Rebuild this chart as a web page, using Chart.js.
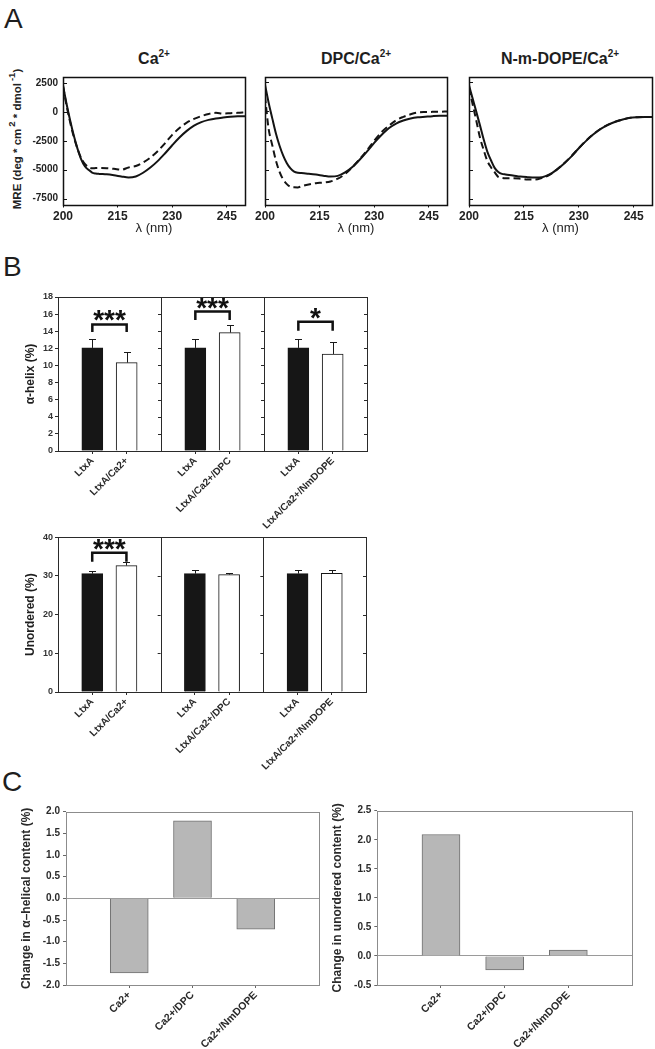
<!DOCTYPE html>
<html><head><meta charset="utf-8"><title>LtxA secondary structure</title>
<script src="https://cdn.jsdelivr.net/npm/chart.js@4.4.1/dist/chart.umd.min.js"></script>
<style>
html,body{margin:0;padding:0;background:#fff;}
#fig{position:relative;width:655px;height:1049px;overflow:hidden;font-family:"Liberation Sans",Arial,sans-serif;color:#222;}
#fig canvas{position:absolute;}
.panel{position:absolute;font-size:28px;line-height:28px;color:#1e1e1e;}
.ttl{position:absolute;top:51px;font-weight:bold;font-size:16px;line-height:16px;white-space:nowrap;transform:translateX(-50%);color:#1e1e1e;}
.ttl sup{font-size:10px;vertical-align:7px;line-height:0;}
.ytl{position:absolute;font-weight:bold;font-size:11.5px;line-height:12px;white-space:nowrap;transform:translate(-50%,-50%) rotate(-90deg);color:#222;}
.ytl sup{font-size:9.5px;vertical-align:6px;line-height:0;margin-left:2px;}
</style></head><body><div id="fig">
<div class="panel" style="left:4px;top:5px">A</div>
<div class="panel" style="left:3px;top:253px">B</div>
<div class="panel" style="left:2px;top:768px">C</div>
<div class="ttl" style="left:154px">Ca<sup>2+</sup></div>
<div class="ttl" style="left:356px">DPC/Ca<sup>2+</sup></div>
<div class="ttl" style="left:560px">N-m-DOPE/Ca<sup>2+</sup></div>
<div class="ytl" style="left:17px;top:139px">MRE (deg * cm<sup>2</sup> * dmol<sup>-1</sup>)</div>
</div>
<script>
// ---------- Panel A: CD spectra ----------
const wavelengths = [200,201,202,203,204,205,206,207,208,209,210,212,214,216,218,220,222,224,226,228,230,232,234,236,238,240,242,244,246,248,250];
const lambdaTicks = [200,215,230,245];
const mreTicks = [-7500,-5000,-2500,0,2500];
const caSolid   = [2300,650,-800,-2100,-3200,-4100,-4700,-5000,-5250,-5330,-5360,-5400,-5480,-5580,-5670,-5580,-5260,-4810,-4260,-3600,-2890,-2220,-1650,-1190,-890,-700,-575,-495,-430,-390,-380];
const caDashed  = [2200,500,-950,-2200,-3200,-4000,-4500,-4780,-4880,-4860,-4850,-4870,-4920,-5000,-4800,-4680,-4370,-3950,-3400,-2720,-1990,-1400,-940,-620,-380,-190,-90,-150,-120,-90,-40];
const dpcSolid  = [2300,750,-600,-1900,-2950,-3800,-4450,-4900,-5180,-5280,-5300,-5360,-5430,-5520,-5600,-5540,-5240,-4770,-4150,-3450,-2700,-2030,-1450,-1040,-780,-610,-510,-460,-410,-380,-380];
const dpcDashed = [1300,-1500,-2910,-4230,-5200,-5850,-6250,-6480,-6520,-6530,-6430,-6280,-6165,-6120,-6020,-5780,-5380,-4800,-4110,-3350,-2520,-1790,-1240,-760,-470,-250,-90,-50,-40,-30,-10];
const dopeSolid = [2240,1100,-40,-1200,-2400,-3450,-4200,-4850,-5200,-5370,-5420,-5500,-5600,-5650,-5680,-5650,-5420,-5000,-4470,-3860,-3170,-2530,-1970,-1500,-1150,-890,-700,-555,-500,-480,-480];
const dopeDashed= [2000,600,-800,-2250,-3300,-4250,-4800,-5220,-5630,-5720,-5750,-5740,-5780,-5850,-5860,-5700,-5450,-5000,-4450,-3840,-3150,-2510,-1950,-1490,-1140,-880,-690,-550,-495,-475,-470];

// ---------- Panel B: secondary structure ----------
const barLabels = ['LtxA','LtxA/Ca2+','LtxA','LtxA/Ca2+/DPC','LtxA','LtxA/Ca2+/NmDOPE'];
const barSlots = [1,2,4,5,7,8];
const groupDividers = [3,6];
const helixValues = [12.05,10.33,12.05,13.84,12.05,11.34];
const helixErrors = [1.0,1.27,1.0,0.86,1.0,1.43];
const helixBrackets = [[1,2,14.8,13.9,'***'],[4,5,16.3,15.3,'***'],[7,8,15.1,14.05,'*']];
const unorderedValues = [30.6,32.69,30.6,30.36,30.6,30.7];
const unorderedErrors = [0.8,0.85,0.9,0.5,0.9,0.8];
const unorderedBrackets = [[1,2,36.0,33.7,'***']];

// ---------- Panel C: change relative to LtxA ----------
const changeLabels = ['Ca2+','Ca2+/DPC','Ca2+/NmDOPE'];
const changeSlots = [1,2,3];
const helixChange = [-1.72,1.79,-0.71];
const unorderedChange = [2.09,-0.24,0.10];

Chart.defaults.font.family = '"Liberation Sans", Arial, sans-serif';
Chart.defaults.color = '#222';
Chart.defaults.animation = false;

const decorConfigs = {};
const FONT = '"Liberation Sans", Arial, sans-serif';
Chart.register({
  id: 'decor',
  afterDatasetsDraw(chart) {
    const d = decorConfigs[chart.canvas.id]; if (!d) return;
    const {ctx, scales: {x, y}} = chart;
    ctx.save();
    if (d.errors) {
      ctx.strokeStyle = '#1a1a1a'; ctx.lineWidth = 1;
      d.slots.forEach((s, i) => {
        const px = Math.round(x.getPixelForValue(s)) + 0.5;
        const y0 = y.getPixelForValue(d.values[i]);
        const y1 = Math.round(y.getPixelForValue(d.values[i] + d.errors[i])) + 0.5;
        ctx.beginPath(); ctx.moveTo(px, y0); ctx.lineTo(px, y1);
        ctx.moveTo(px - 3.5, y1); ctx.lineTo(px + 3.5, y1); ctx.stroke();
      });
    }
    if (d.brackets) {
      d.brackets.forEach(([a, b, top, leg, mark]) => {
        const xa = x.getPixelForValue(a), xb = x.getPixelForValue(b);
        const yt = y.getPixelForValue(top), yl = y.getPixelForValue(leg);
        ctx.strokeStyle = '#111'; ctx.lineWidth = 2.5; ctx.lineJoin = 'miter'; ctx.lineCap = 'butt';
        ctx.beginPath(); ctx.moveTo(xa, yl); ctx.lineTo(xa, yt); ctx.lineTo(xb, yt); ctx.lineTo(xb, yl); ctx.stroke();
        const fs = 28;
        ctx.fillStyle = '#111'; ctx.font = 'bold ' + fs + 'px ' + FONT;
        ctx.textAlign = 'center'; ctx.textBaseline = 'alphabetic';
        const m = ctx.measureText(mark);
        const mid = (m.actualBoundingBoxAscent - m.actualBoundingBoxDescent) / 2;
        const starCenter = yt - 8.5;
        ctx.fillText(mark, (xa + xb) / 2, starCenter + mid);
      });
    }
    ctx.restore();
  },
  afterDraw(chart) {
    const d = decorConfigs[chart.canvas.id]; if (!d) return;
    const {ctx, chartArea: a, scales: {x, y}} = chart;
    ctx.save();
    ctx.strokeStyle = d.frame.color; ctx.lineWidth = 1;
    if (d.dividers) {
      d.dividers.forEach(v => {
        const px = Math.round(x.getPixelForValue(v)) + 0.5;
        ctx.beginPath(); ctx.moveTo(px, a.top); ctx.lineTo(px, a.bottom); ctx.stroke();
      });
      const edges = [...d.dividers, x.max];
      y.ticks.forEach(t => {
        const py = Math.round(y.getPixelForValue(t.value)) + 0.5;
        edges.forEach(v => {
          const px = x.getPixelForValue(v);
          ctx.beginPath(); ctx.moveTo(px - 3, py); ctx.lineTo(px, py); ctx.stroke();
        });
      });
    }
    if (d.innerY) {
      y.ticks.forEach(t => {
        const py = Math.round(y.getPixelForValue(t.value)) + 0.5;
        ctx.beginPath(); ctx.moveTo(a.left, py); ctx.lineTo(a.left + 4, py); ctx.stroke();
      });
    }
    ctx.lineWidth = d.frame.width;
    const off = d.frame.width % 2 ? 0.5 : 0;
    const l = Math.round(a.left) + off, t = Math.round(a.top) + off;
    const r = Math.round(a.right) + off, b = Math.round(a.bottom) + off;
    ctx.strokeRect(l, t, r - l, b - t);
    ctx.restore();
  }
});

function place(id, left, top, w, h) {
  const c = document.createElement('canvas');
  c.id = id; c.width = w; c.height = h;
  c.style.left = left + 'px'; c.style.top = top + 'px';
  c.style.width = w + 'px'; c.style.height = h + 'px';
  document.getElementById('fig').appendChild(c);
  return c;
}

function spectrum(id, left, width, solid, dashed, yW, padRight, showY) {
  const c = place(id, left, 66, width, 179);
  decorConfigs[id] = {frame: {color: '#111', width: 1.5}, innerY: true};
  const pts = arr => wavelengths.map((w, i) => ({x: w, y: arr[i]}));
  new Chart(c, {
    type: 'line',
    data: {datasets: [
      {data: pts(solid), borderColor: '#141414', borderWidth: 2, pointRadius: 0, cubicInterpolationMode: 'monotone', fill: false},
      {data: pts(dashed), borderColor: '#141414', borderWidth: 2, borderDash: [7, 4], pointRadius: 0, cubicInterpolationMode: 'monotone', fill: false}
    ]},
    options: {
      responsive: false, animation: false, events: [],
      layout: {padding: {top: 10.5, right: padRight, left: 0, bottom: 0}},
      plugins: {legend: {display: false}, tooltip: {enabled: false}},
      scales: {
        x: {type: 'linear', min: 200, max: 250,
          afterBuildTicks: s => { s.ticks = lambdaTicks.map(v => ({value: v})); },
          afterFit: s => { s.height = 40.5; },
          ticks: {font: {size: 12, weight: 'bold'}, color: '#222', padding: 2, maxRotation: 0, callback: v => String(v)},
          grid: {drawOnChartArea: false, tickLength: 3, color: '#111'},
          border: {display: false},
          title: {display: true, text: 'λ (nm)', font: {size: 13}, color: '#222', padding: {top: 0, bottom: 8.5}}},
        y: {type: 'linear', min: -8000, max: 3000,
          afterBuildTicks: s => { s.ticks = mreTicks.map(v => ({value: v})); },
          afterFit: s => { s.width = yW; },
          ticks: {display: showY, font: {size: 10, weight: 'bold'}, color: '#222', padding: 5, callback: v => String(v)},
          grid: {display: false, drawTicks: false},
          border: {display: false}}
      }
    }
  });
}

function structure(id, top, height, values, errors, brackets, yMax, yStep, yTitle, padTop, xH, padRight) {
  const c = place(id, 0, top, 372, height);
  decorConfigs[id] = {frame: {color: '#2a2a2a', width: 1}, dividers: groupDividers, slots: barSlots, values, errors, brackets};
  new Chart(c, {
    type: 'bar',
    data: {datasets: [{
      data: barSlots.map((s, i) => ({x: s, y: values[i]})),
      backgroundColor: ctx => (ctx.dataIndex % 2 ? '#ffffff' : '#161616'),
      borderColor: '#161616', borderWidth: 1, barThickness: 21
    }]},
    options: {
      responsive: false, animation: false, events: [],
      layout: {padding: {top: padTop, right: padRight, left: 0, bottom: 0}},
      plugins: {legend: {display: false}, tooltip: {enabled: false}},
      scales: {
        x: {type: 'linear', min: 0, max: 9, offset: false,
          afterBuildTicks: s => { s.ticks = barSlots.map(v => ({value: v})); },
          afterFit: s => { s.height = xH; },
          ticks: {autoSkip: false, minRotation: 45, maxRotation: 45, font: {size: 10, weight: 'bold'}, color: '#2a2a2a', padding: 1,
            callback: v => barLabels[barSlots.indexOf(v)]},
          grid: {offset: false, drawOnChartArea: false, tickLength: 3, color: '#2a2a2a'},
          border: {display: false}},
        y: {type: 'linear', min: 0, max: yMax,
          afterFit: s => { s.width = 58; },
          ticks: {stepSize: yStep, font: {size: 9, weight: 'bold'}, color: '#333', padding: 2, callback: v => String(v)},
          grid: {drawOnChartArea: false, tickLength: 3, color: '#2a2a2a'},
          border: {display: false},
          title: {display: true, text: yTitle, font: {size: 12, weight: 'bold'}, color: '#1e1e1e', padding: {top: 23, bottom: 0}}}
      }
    }
  });
}

function change(id, left, width, values, yMin, yMax, yW, padTop, padRight, titlePad, yTitle) {
  const c = place(id, left, 800, width, 249);
  decorConfigs[id] = {frame: {color: '#8c8c8c', width: 1}};
  new Chart(c, {
    type: 'bar',
    data: {datasets: [{
      data: changeSlots.map((s, i) => ({x: s, y: values[i]})),
      backgroundColor: '#b7b7b7', borderColor: '#707070', borderWidth: 1, barThickness: 38
    }]},
    options: {
      responsive: false, animation: false, events: [],
      layout: {padding: {top: padTop, right: padRight, left: 0, bottom: 0}},
      plugins: {legend: {display: false}, tooltip: {enabled: false}},
      scales: {
        x: {type: 'linear', min: 0, max: 4, offset: false,
          afterBuildTicks: s => { s.ticks = changeSlots.map(v => ({value: v})); },
          afterFit: s => { s.height = 64; },
          ticks: {autoSkip: false, minRotation: 45, maxRotation: 45, font: {size: 10.5, weight: 'bold'}, color: '#2a2a2a', padding: 1,
            callback: v => changeLabels[changeSlots.indexOf(v)]},
          grid: {offset: false, drawOnChartArea: false, tickLength: 3, color: '#666'},
          border: {display: false}},
        y: {type: 'linear', min: yMin, max: yMax,
          afterFit: s => { s.width = yW; },
          ticks: {stepSize: 0.5, font: {size: 10, weight: 'bold'}, color: '#2a2a2a', padding: 3, callback: v => v.toFixed(1)},
          grid: {drawTicks: true, tickLength: 3, tickColor: '#666',
            color: ctx => (ctx.tick && Math.abs(ctx.tick.value) < 1e-9 ? '#9a9a9a' : 'rgba(0,0,0,0)')},
          border: {display: false},
          title: {display: true, text: yTitle, font: {size: 12, weight: 'bold'}, color: '#2a2a2a', padding: {top: titlePad, bottom: 0}}}
      }
    }
  });
}

spectrum('cdCa', 30, 220, caSolid, caDashed, 33, 5, true);
spectrum('cdDpc', 252, 200, dpcSolid, dpcDashed, 13, 5, false);
spectrum('cdDope', 456, 199, dopeSolid, dopeDashed, 13, 3, false);

structure('helix', 287, 250, helixValues, helixErrors, helixBrackets, 18, 2, 'α-helix (%)', 10, 86, 5);
structure('unordered', 527, 250, unorderedValues, unorderedErrors, unorderedBrackets, 40, 10, 'Unordered (%)', 10.3, 85, 6);

change('dHelix', 0, 325, helixChange, -2, 2, 66, 11.7, 6, 19.8, 'Change in α–helical content (%)');
change('dUnordered', 330, 310, unorderedChange, -0.5, 2.5, 47.3, 10.7, 8, 0.8, 'Change in unordered content (%)');
</script>
</body></html>
